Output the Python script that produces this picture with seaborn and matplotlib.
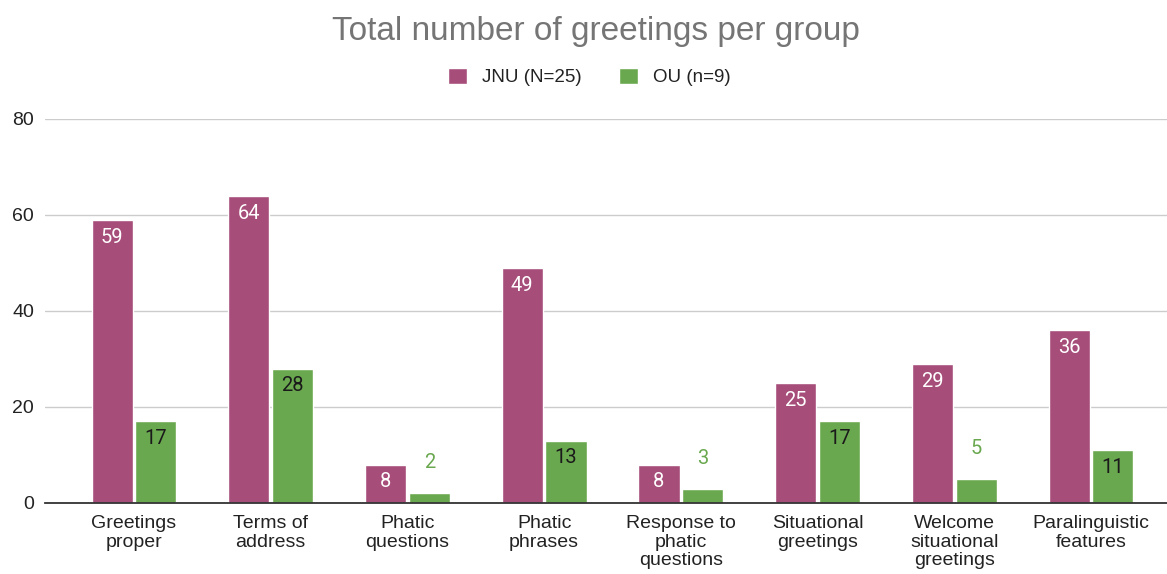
import pandas as pd
import seaborn as sns
import matplotlib.pyplot as plt

# ------------------ DATA ------------------ #
categories = ['Greetings\nproper', 'Terms of\naddress', 'Phatic\nquestions', 'Phatic\nphrases',
              'Response to\nphatic\nquestions', 'Situational\ngreetings', 'Welcome\nsituational\ngreetings',
              'Paralinguistic\nfeatures']
groups = ['JNU (N=25)', 'OU (n=9)']
jnu_values = [59, 64, 8, 49, 8, 25, 29, 36]
ou_values = [17, 28, 2, 13, 3, 17, 5, 11]

colors = ['#a64d79', '#6aa84f']

df = pd.DataFrame({
    'category': categories * 2,
    'group': [groups[0]] * len(categories) + [groups[1]] * len(categories),
    'value': jnu_values + ou_values,
})

sns.set_style('white')
plt.rcParams['font.family'] = ['Liberation Sans', 'DejaVu Sans']

fig = plt.figure(figsize=(11.67, 5.74), dpi=100)
ax = fig.add_axes([0.0386, 0.1237, 0.9614, 0.669])

sns.barplot(data=df, x='category', y='value', hue='group', palette=colors,
            width=0.64, gap=0.06, ax=ax, legend=False, saturation=1)

ax.set_ylim(0, 80)
ax.set_xlim(-0.651, 7.556)
ax.set_yticks([0, 20, 40, 60, 80])
ax.grid(axis='y', color='#cccccc', linewidth=1)
ax.set_axisbelow(True)
for s in ['top', 'right', 'left']:
    ax.spines[s].set_visible(False)
ax.spines['bottom'].set_color('#333333')
ax.spines['bottom'].set_linewidth(1.3)
ax.tick_params(axis='both', length=0, labelsize=14, colors='#222222')
ax.tick_params(axis='y', pad=8)
ax.tick_params(axis='x', pad=9)
for lbl in ax.get_xticklabels():
    lbl.set_linespacing(1.08)
    lbl.set_va('top')
ax.set_xlabel('')
ax.set_ylabel('')

# data labels
for ci, cont in enumerate(ax.containers):
    for rect in cont:
        h = rect.get_height()
        x = rect.get_x() + rect.get_width() / 2
        if ci == 0:
            txt, off, col = f'{h:.0f}', -12.5, 'white'
        elif h >= 10:
            txt, off, col = f'{h:.0f}', -12.5, '#1a1a1a'
        else:
            txt, off, col = f'{h:.0f}', 22, colors[1]
        ax.annotate(txt, xy=(x, h), xytext=(0, off), textcoords='offset points',
                    ha='center', va='center', fontsize=14.5, color=col, family='Roboto')

fig.text(0.511, 0.945, 'Total number of greetings per group', ha='center', va='center',
         fontsize=24, color='#757575')

handles = [plt.Rectangle((0, 0), 1, 1, facecolor=c) for c in colors]
fig.legend(handles, groups, loc='center', bbox_to_anchor=(0.505, 0.866), ncol=2, frameon=False,
           fontsize=13.5, handlelength=1.0, handleheight=1.0, columnspacing=2.0, handletextpad=0.8,
           labelcolor='#222222')

fig.savefig('out.png', dpi=100)
